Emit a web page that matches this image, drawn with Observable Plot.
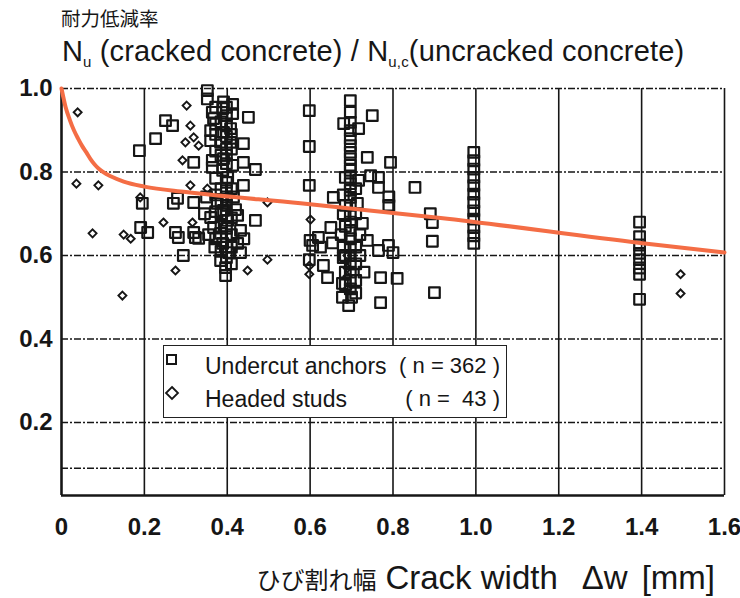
<!DOCTYPE html>
<html><head><meta charset="utf-8">
<script src="https://cdn.jsdelivr.net/npm/d3@7"></script>
<script src="https://cdn.jsdelivr.net/npm/@observablehq/plot@0.6"></script>
<style>
body{margin:0;background:#fff;}
#wrap{position:relative;width:740px;height:598px;overflow:hidden;font-family:"Liberation Sans",Arial,sans-serif;color:#161616;}
#wrap svg{position:absolute;left:0;top:0;}
.t1{position:absolute;left:61px;top:5px;font-family:"Noto Sans CJK JP";font-size:19.5px;line-height:26px;white-space:nowrap;}
.t2{position:absolute;left:62px;top:34px;font-size:29px;line-height:34px;white-space:nowrap;letter-spacing:0.15px;}
.t2 sub{font-size:15px;vertical-align:-6px;}
.xl{position:absolute;right:25px;top:560px;height:36px;display:flex;align-items:center;font-size:33px;white-space:nowrap;}
.xl .jp{font-family:"Noto Sans CJK JP";font-size:24px;margin-right:9px;}
.legend{position:absolute;left:163px;top:345px;width:342px;height:71px;border:1.5px solid #222;background:#fff;font-size:23px;}
.legend .row{position:absolute;left:0;height:28px;line-height:28px;width:100%;}
.legend svg{position:absolute;left:3px;top:6px;}
.legend .lab{position:absolute;left:41px;}
.legend .n{position:absolute;right:6px;font-size:22px;}
</style></head><body><div id="wrap"></div>
<script>
const xTicks=[0,0.2,0.4,0.6,0.8,1.0,1.2,1.4,1.6];
const xTickLabels=["0","0.2","0.4","0.6","0.8","1.0","1.2","1.4","1.6"];
const yTicks=[0.2,0.4,0.6,0.8,1.0];
const yTickLabels=["0.2","0.4","0.6","0.8","1.0"];
const hGrid=[0.09,0.2,0.4,0.6,0.8,1.0];
const yBottom=0.025;

const undercutAnchors=[
[0.188,0.851],[0.227,0.880],[0.251,0.923],[0.268,0.911],[0.195,0.725],[0.191,0.667],[0.208,0.655],[0.280,0.737],[0.270,0.725],[0.294,0.600],[0.275,0.655],[0.282,0.643],[0.323,0.643],[0.319,0.655],[0.331,0.641],[0.319,0.823],[0.319,0.727],
[0.352,0.995],[0.352,0.975],[0.391,0.968],[0.413,0.962],[0.389,0.952],[0.364,0.943],[0.367,0.928],[0.413,0.940],[0.451,0.931],[0.360,0.899],[0.391,0.895],[0.408,0.904],[0.360,0.875],[0.384,0.871],[0.408,0.871],[0.439,0.868],[0.364,0.828],[0.391,0.832],[0.413,0.816],[0.439,0.823],[0.364,0.811],[0.389,0.804],[0.468,0.806],[0.401,0.787],[0.439,0.768],[0.376,0.725],[0.391,0.708],[0.360,0.691],[0.367,0.667],[0.384,0.653],[0.401,0.684],[0.425,0.696],[0.432,0.660],[0.468,0.684],[0.389,0.629],[0.425,0.629],[0.403,0.607],[0.432,0.607],[0.384,0.588],[0.396,0.571],[0.396,0.552],[0.350,0.74],[0.345,0.70],[0.355,0.65],[0.37,0.62],[0.415,0.74],[0.42,0.71],[0.44,0.64],[0.41,0.58],
[0.398,0.955],[0.398,0.935],[0.398,0.915],[0.398,0.885],[0.398,0.855],[0.398,0.84],[0.398,0.82],[0.398,0.775],[0.398,0.755],[0.398,0.74],[0.398,0.72],[0.398,0.695],[0.398,0.665],[0.398,0.645],[0.398,0.62],[0.398,0.595],
[0.372,0.955],[0.372,0.915],[0.372,0.89],[0.372,0.85],[0.372,0.785],[0.372,0.745],[0.372,0.705],[0.372,0.64],
[0.385,0.76],[0.41,0.76],[0.385,0.73],[0.41,0.69],[0.385,0.70],[0.41,0.65],[0.385,0.67],[0.41,0.62],[0.385,0.61],[0.41,0.855],[0.385,0.84],[0.41,0.89],[0.385,0.92],
[0.598,0.947],[0.598,0.861],[0.598,0.768],[0.600,0.636],[0.606,0.624],[0.598,0.59],[0.62,0.643],[0.625,0.62],[0.632,0.576],[0.642,0.547],[0.656,0.739],[0.650,0.667],[0.654,0.630],[0.68,0.595],[0.678,0.533],[0.678,0.50],
[0.697,0.971],[0.697,0.943],[0.697,0.919],[0.697,0.899],[0.697,0.880],[0.697,0.863],[0.697,0.847],[0.697,0.832],[0.697,0.816],[0.697,0.804],[0.697,0.787],[0.697,0.772],[0.697,0.756],[0.697,0.739],[0.697,0.72],[0.697,0.70],[0.697,0.68],[0.697,0.66],[0.697,0.64],[0.697,0.62],[0.697,0.60],[0.697,0.58],[0.697,0.56],[0.697,0.54],[0.697,0.52],[0.693,0.48],[0.70,0.50],
[0.681,0.916],[0.717,0.904],[0.75,0.935],[0.738,0.835],[0.685,0.787],[0.717,0.780],[0.746,0.791],[0.765,0.787],[0.765,0.763],[0.714,0.725],[0.726,0.677],[0.738,0.636],[0.765,0.612],[0.789,0.624],[0.77,0.547],[0.77,0.487],[0.81,0.545],[0.68,0.70],[0.675,0.65],[0.72,0.65],[0.72,0.60],[0.73,0.56],[0.68,0.62],[0.71,0.76],[0.68,0.745],
[0.71,0.62],[0.685,0.60],[0.71,0.58],[0.685,0.56],[0.71,0.54],[0.685,0.53],[0.71,0.51],[0.685,0.67],[0.71,0.70],[0.685,0.72],
[0.794,0.823],[0.79,0.74],[0.79,0.72],[0.80,0.607],[0.853,0.763],[0.89,0.70],[0.895,0.679],[0.895,0.634],[0.90,0.511],
[0.995,0.847],[0.995,0.827],[0.995,0.807],[0.995,0.787],[0.995,0.767],[0.995,0.747],[0.995,0.727],[0.995,0.707],[0.995,0.687],[0.995,0.667],[0.995,0.647],[0.995,0.629],
[1.395,0.68],[1.395,0.645],[1.395,0.625],[1.395,0.605],[1.395,0.59],[1.395,0.57],[1.395,0.555],[1.395,0.495]
];

const headedStuds=[
[0.039,0.943],[0.036,0.772],[0.089,0.768],[0.075,0.653],[0.147,0.504],[0.15,0.65],[0.167,0.64],[0.19,0.739],[0.302,0.959],[0.311,0.911],[0.319,0.883],[0.299,0.871],[0.331,0.863],[0.292,0.828],[0.311,0.768],[0.352,0.760],[0.246,0.679],[0.316,0.679],[0.275,0.564],[0.449,0.564],[0.497,0.59],[0.497,0.727],[0.601,0.686],[0.598,0.575],[0.598,0.555],[0.69,0.60],[0.69,0.57],[0.69,0.55],[0.69,0.52],[1.494,0.555],[1.494,0.509]
];

const curveX=[0,0.01,0.02,0.03,0.04,0.05,0.06,0.07,0.08,0.09,0.10,0.12,0.15,0.2,0.3,0.577,0.915,1.397,1.6];
const curveY=[1.0,0.955,0.925,0.90,0.88,0.862,0.847,0.831,0.818,0.808,0.800,0.789,0.777,0.765,0.752,0.725,0.69,0.63,0.607];
const curve=curveX.map((x,i)=>({x,y:curveY[i]}));

const ink="#161616";
const chart=Plot.plot({
  width:740,height:598,marginLeft:61,marginRight:16,marginTop:88,marginBottom:103,
  x:{domain:[0,1.6]},y:{domain:[yBottom,1.0]},
  style:{fontFamily:"Liberation Sans, Arial, sans-serif",background:"white",color:ink,overflow:"visible"},
  marks:[
    Plot.ruleX(xTicks,{stroke:ink,strokeWidth:1.6}),
    Plot.ruleY(hGrid,{stroke:ink,strokeWidth:1.5,strokeDasharray:"7,2,2,2"}),
    Plot.ruleY([yBottom],{stroke:ink,strokeWidth:2.6}),
    Plot.ruleX([0],{stroke:ink,strokeWidth:2.4}),
    Plot.dot(undercutAnchors,{x:d=>d[0],y:d=>d[1],symbol:"square",r:6,stroke:ink,strokeWidth:2.2,fill:"none",strokeLinejoin:"round"}),
    Plot.dot(headedStuds,{x:d=>d[0],y:d=>d[1],symbol:"diamond2",r:3.6,stroke:ink,strokeWidth:1.9,fill:"none"}),
    Plot.line(curve,{x:"x",y:"y",stroke:"#f46d45",strokeWidth:4,curve:"monotone-x"}),
    Plot.axisX({ticks:xTicks,tickFormat:d=>xTickLabels[xTicks.indexOf(d)],tickSize:0,tickPadding:22,fontSize:24,fontWeight:"bold",label:null}),
    Plot.axisY({ticks:yTicks,tickFormat:d=>yTickLabels[yTicks.indexOf(d)],tickSize:0,tickPadding:9,fontSize:24,fontWeight:"bold",label:null})
  ]
});
const wrap=document.getElementById("wrap");
wrap.appendChild(chart);
wrap.insertAdjacentHTML("beforeend",`
<div class="t1">耐力低減率</div>
<div class="t2">N<sub>u</sub> (cracked concrete) / N<sub>u,c</sub>(uncracked concrete)</div>
<div class="legend">
 <div class="row" style="top:6px"><svg width="16" height="16"><rect x="3" y="3" width="9" height="9" fill="none" stroke="#161616" stroke-width="2"/></svg><span class="lab">Undercut anchors</span><span class="n">( n = 362 )</span></div>
 <div class="row" style="top:39px"><svg width="16" height="16"><path d="M8,2L14,8L8,14L2,8Z" fill="none" stroke="#161616" stroke-width="1.8"/></svg><span class="lab">Headed studs</span><span class="n">( n = &nbsp;43 )</span></div>
</div>
<div class="xl"><span class="jp">ひび割れ幅</span><span>Crack width</span><span style="margin-left:24px">Δw</span><span style="margin-left:14px">[mm]</span></div>
`);
</script></body></html>
